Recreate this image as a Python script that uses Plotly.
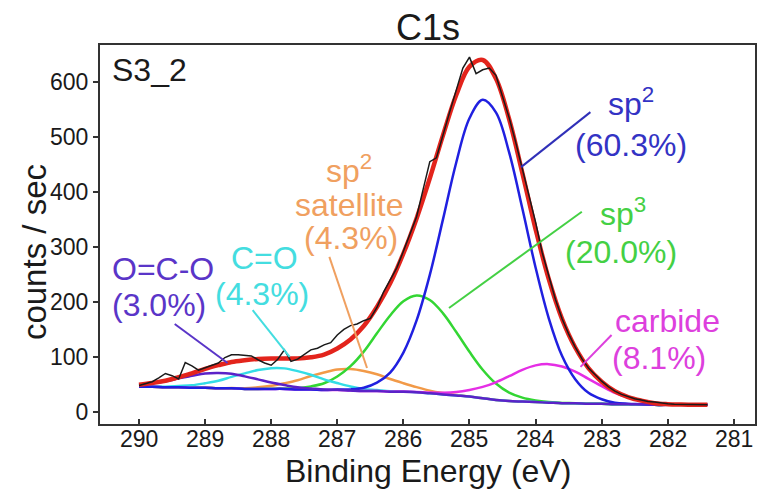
import plotly.graph_objects as go

# ---- C1s fit: energy grid for the fitted curves (eV) ----
E_FIT = [290.0, 289.8, 289.6, 289.4, 289.2, 289.0, 288.8, 288.6, 288.4, 288.2,
         288.0, 287.8, 287.6, 287.4, 287.2, 287.0, 286.8, 286.6, 286.4, 286.2,
         286.0, 285.8, 285.6, 285.4, 285.2, 285.0, 284.8, 284.6, 284.4, 284.2,
         284.0, 283.8, 283.6, 283.4, 283.2, 283.0, 282.8, 282.6, 282.4, 282.2,
         282.0, 281.8, 281.6, 281.4]

# fitted components (background included), counts / sec
OCO = [49.3, 52.3, 55.7, 61.1, 65.7, 70.1, 71.0, 69.7, 64.8, 59.3,
       53.7, 49.0, 44.8, 42.8, 40.8, 40.3, 39, 38, 38, 37,
       37, 36, 34, 32, 30, 28, 25, 22, 20, 19,
       18, 17, 16, 16, 15, 15, 14, 14, 14, 13,
       13, 13, 13, 13]
CO = [46.1, 46.4, 46.0, 47.2, 48.5, 52.3, 56.9, 63.8, 70.2, 76.3,
      79.7, 79.3, 74.3, 67.7, 59.4, 52.6, 46.4, 41.9, 39.9, 37.8,
      37.3, 36, 34, 32, 30, 28, 25, 22, 20, 19,
      18, 17, 16, 16, 15, 15, 14, 14, 14, 13,
      13, 13, 13, 13]
SAT = [46, 46, 45, 45, 44, 44, 43.2, 43.5, 43.2, 44.8,
       47.6, 52.3, 57.8, 65.4, 71.9, 77.3, 78.0, 74.5, 68.5, 59.9,
       52.3, 45.2, 38.9, 34.4, 31.0, 28.4, 25, 22, 20, 19,
       18, 17, 16, 16, 15, 15, 14, 14, 14, 13,
       13, 13, 13, 13]
SP3 = [46, 46, 45, 45, 44, 44, 43, 43, 42, 42,
       42.3, 42.8, 43.3, 46.6, 52.3, 64.6, 83.3, 109.8, 143.1, 175.4,
       201.3, 211.8, 203.5, 179.3, 145.3, 109.4, 76.8, 51.7, 35.3, 26.1,
       21.0, 18.1, 16.4, 16, 15, 15, 14, 14, 14, 13,
       13, 13, 13, 13]
SP2 = [46, 46, 45, 45, 44, 44, 43, 43, 42, 42,
       42, 42, 41, 41, 40, 40.7, 41.1, 44.0, 53.3, 71.7,
       108.0, 166.4, 249.2, 350.5, 453.5, 533.8, 567.3, 544.5, 471.8, 369.8,
       262.7, 170.3, 102.2, 59.6, 34.8, 23.1, 16.9, 15.0, 14.3, 13,
       13, 13, 13, 13]
CARB = [46, 46, 45, 45, 44, 44, 43, 43, 42, 42,
        42, 42, 41, 41, 40, 40, 39, 38, 38, 37,
        37.2, 36.5, 35.3, 35.1, 36.4, 40.1, 45.7, 54.0, 65.1, 76.6,
        84.7, 87.0, 82.7, 73.6, 60.1, 47.0, 34.7, 26.1, 20.4, 16.1,
        14.3, 13.5, 13.0, 13.0]
ENV = [49.4, 52.7, 56.7, 63.3, 70.2, 78.4, 85.1, 91.0, 94.2, 96.4,
       97.3, 97.4, 97.2, 99.5, 104.4, 115.5, 131.8, 156.2, 190.8, 233.8,
       288.1, 351.9, 424.9, 503.3, 576.2, 627.7, 639.8, 606.2, 532.2, 434.5,
       332.4, 241.4, 169.3, 117.2, 79.9, 55.1, 37.6, 27.1, 20.7, 16.1,
       14.3, 13.5, 13.0, 13.0]

# ---- measured spectrum, 0.1 eV steps ----
E_RAW = [290.0, 289.9, 289.8, 289.7, 289.6, 289.5, 289.4, 289.3, 289.2, 289.1,
         289.0, 288.9, 288.8, 288.7, 288.6, 288.5, 288.4, 288.3, 288.2, 288.1,
         288.0, 287.9, 287.8, 287.7, 287.6, 287.5, 287.4, 287.3, 287.2, 287.1,
         287.0, 286.9, 286.8, 286.7, 286.6, 286.5, 286.4, 286.3, 286.2, 286.1,
         286.0, 285.9, 285.8, 285.7, 285.6, 285.5, 285.4, 285.3, 285.2, 285.1,
         285.0, 284.9, 284.8, 284.7, 284.6, 284.5, 284.4, 284.3, 284.2, 284.1,
         284.0, 283.9, 283.8, 283.7, 283.6, 283.5, 283.4, 283.3, 283.2, 283.1,
         283.0, 282.9, 282.8, 282.7, 282.6, 282.5, 282.4, 282.3, 282.2, 282.1,
         282.0, 281.9, 281.8, 281.7, 281.6, 281.5, 281.4]
RAW = [48, 52, 55, 62, 70, 66, 60, 90, 84, 76,
       80, 84, 89, 99, 104, 104, 103, 102, 95, 89,
       85, 96, 113, 92, 96, 104, 113, 116, 122, 126,
       140, 150, 157, 160, 166, 170, 190, 218, 240, 262,
       292, 322, 355, 405, 455, 462, 505, 545, 585, 625,
       645, 615, 622, 625, 612, 575, 535, 490, 442, 398,
       345, 290, 245, 205, 170, 142, 118, 97, 80, 67,
       56, 46, 38, 32, 28, 24, 22, 19, 18, 16,
       15, 14, 14, 13, 13, 13, 13]

X_TICKS = [290, 289, 288, 287, 286, 285, 284, 283, 282, 281]
Y_TICKS = [0, 100, 200, 300, 400, 500, 600]

FONT = "Liberation Sans, Arial, Helvetica, sans-serif"
INK = "#1a1a1a"

fig = go.Figure()

components = [
    (SAT, "#f29a48"),
    (SP3, "#33d633"),
    (CO, "#33dde6"),
    (CARB, "#e52ee5"),
    (SP2, "#2020e0"),
    (OCO, "#5b22c8"),
]
for vals, col in components:
    fig.add_trace(go.Scatter(x=E_FIT, y=vals, mode="lines",
                             line=dict(color=col, width=2.5, shape="spline", smoothing=1.0),
                             hoverinfo="skip"))

fig.add_trace(go.Scatter(x=E_FIT, y=ENV, mode="lines",
                         line=dict(color="#e3241c", width=4.5, shape="spline", smoothing=1.0),
                         hoverinfo="skip"))
fig.add_trace(go.Scatter(x=E_RAW, y=RAW, mode="lines",
                         line=dict(color=INK, width=1.5),
                         hoverinfo="skip"))

# peak labels: (text, x, y, colour)
labels = [
    ("sp<sup>2</sup>", 282.56, 564, "#3333c4"),
    ("(60.3%)", 282.56, 485, "#3333c4"),
    ("sp<sup>3</sup>", 282.68, 364, "#44d044"),
    ("(20.0%)", 282.70, 291, "#44d044"),
    ("carbide", 282.01, 165, "#dd40dd"),
    ("(8.1%)", 282.14, 98, "#dd40dd"),
    ("sp<sup>2</sup>", 286.83, 442, "#f0a060"),
    ("satellite", 286.82, 376, "#f0a060"),
    ("(4.3%)", 286.80, 316, "#f0a060"),
    ("C=O", 288.10, 280, "#44dde0"),
    ("(4.3%)", 288.14, 215, "#44dde0"),
    ("O=C-O", 289.64, 260, "#5a35c8"),
    ("(3.0%)", 289.70, 194, "#5a35c8"),
]
for txt, x, y, col in labels:
    fig.add_annotation(x=x, y=y, xref="x", yref="y", text=txt, showarrow=False,
                       xanchor="center", yanchor="middle",
                       font=dict(family=FONT, size=32, color=col))

# leader lines from labels to peaks
leaders = [
    (283.17, 545, 284.22, 445, "#3030b8"),
    (283.30, 364, 285.31, 189, "#44d044"),
    (282.85, 140, 283.32, 82, "#dd40dd"),
    (287.12, 282, 286.55, 80, "#f0a060"),
    (288.28, 185, 287.72, 100, "#44dde0"),
    (289.46, 160, 288.66, 89, "#5a35c8"),
]
for x0, y0, x1, y1, col in leaders:
    fig.add_shape(type="line", xref="x", yref="y", x0=x0, y0=y0, x1=x1, y1=y1,
                  line=dict(color=col, width=2))

# energy tick labels, set close under the frame
for v in X_TICKS:
    fig.add_annotation(x=v, y=-0.04, xref="x", yref="paper", text=str(v),
                       showarrow=False, xanchor="center", yanchor="middle",
                       font=dict(family=FONT, size=23, color=INK))

# sample name, title, axis titles
fig.add_annotation(x=0.015, y=0.934, xref="paper", yref="paper", text="S3_2",
                   showarrow=False, xanchor="left", yanchor="middle",
                   font=dict(family=FONT, size=32, color=INK))
fig.add_annotation(x=0.5, y=1.045, xref="paper", yref="paper", text="C1s",
                   showarrow=False, xanchor="center", yanchor="middle",
                   font=dict(family=FONT, size=36, color=INK))
fig.add_annotation(x=0.5, y=-0.124, xref="paper", yref="paper",
                   text="Binding Energy (eV)", showarrow=False,
                   xanchor="center", yanchor="middle",
                   font=dict(family=FONT, size=32, color=INK))
fig.add_annotation(x=-0.099, y=0.454, xref="paper", yref="paper",
                   text="counts / sec", showarrow=False, textangle=-90,
                   xanchor="center", yanchor="middle",
                   font=dict(family=FONT, size=33, color=INK))

axis_common = dict(tickwidth=1.5, tickcolor="#333",
                   showline=True, linecolor="#333", linewidth=2, mirror=True,
                   showgrid=False, zeroline=False,
                   tickfont=dict(family=FONT, size=23, color=INK))

fig.update_layout(
    width=759, height=493,
    margin=dict(l=100, r=2, t=45, b=69),
    paper_bgcolor="white", plot_bgcolor="white",
    showlegend=False,
    font=dict(family=FONT, color=INK),
    xaxis=dict(range=[290.59, 280.68], tickvals=X_TICKS, ticks="inside", ticklen=5,
               showticklabels=False, **axis_common),
    yaxis=dict(range=[-21.8, 667], tickvals=Y_TICKS, ticks="outside", ticklen=5,
               **axis_common),
)

fig.write_html("out.html")
